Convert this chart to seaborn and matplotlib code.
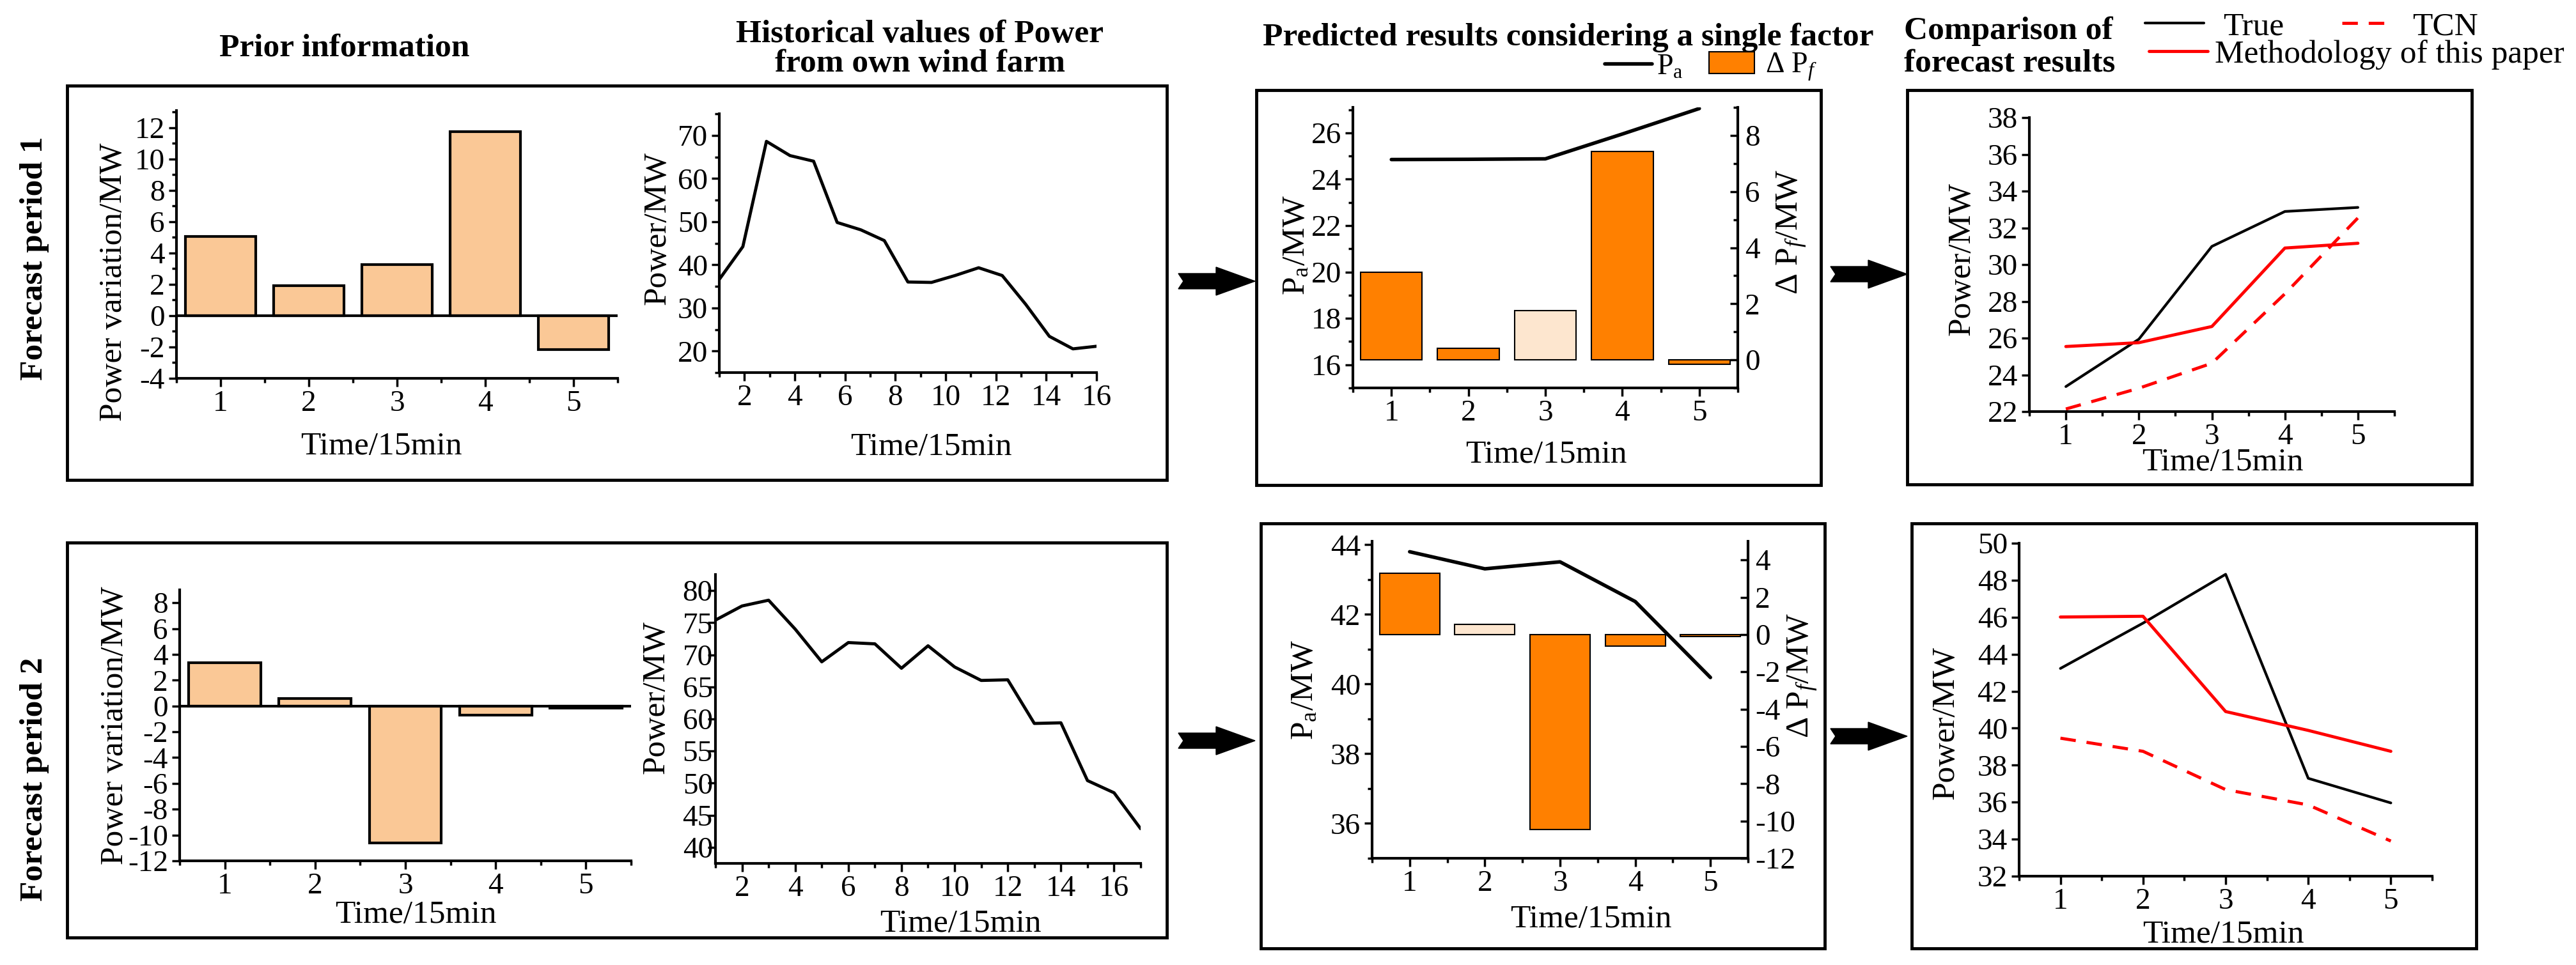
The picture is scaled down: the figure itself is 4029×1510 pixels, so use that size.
import numpy as np
import matplotlib.pyplot as plt
import seaborn as sns
from matplotlib.lines import Line2D
from matplotlib.patches import Patch, Rectangle, Polygon
from matplotlib.ticker import MultipleLocator

# ---------------- data ----------------
steps = [1, 2, 3, 4, 5]

# forecast period 1
prior_p1 = [5.05, 1.9, 3.25, 11.75, -2.15]
hist_p1 = [36.6, 44.2, 68.6, 65.3, 64.0, 49.8, 48.1, 45.6, 36.0, 35.9,
           37.5, 39.3, 37.5, 30.8, 23.4, 20.5, 21.1]
pa_p1 = [24.85, 24.86, 24.88, 25.95, 27.05]
dpf_p1 = [3.12, 0.41, 1.75, 7.42, -0.15]
true_p1 = [23.36, 25.94, 30.99, 32.89, 33.11]
ours_p1 = [25.54, 25.75, 26.63, 30.90, 31.16]
tcn_p1 = [22.14, 23.27, 24.63, 28.41, 32.54]

# forecast period 2
prior_p2 = [3.33, 0.6, -10.6, -0.69, -0.15]
hist_p2 = [75.4, 77.6, 78.5, 74.0, 68.9, 71.9, 71.7, 67.9, 71.4, 68.1,
           66.0, 66.1, 59.3, 59.4, 50.4, 48.5, 42.9]
pa_p2 = [43.80, 43.31, 43.51, 42.37, 40.19]
dpf_p2 = [3.30, 0.55, -10.46, -0.63, -0.10]
true_p2 = [43.23, 45.68, 48.32, 37.29, 35.96]
ours_p2 = [46.01, 46.05, 40.90, 39.88, 38.75]
tcn_p2 = [39.46, 38.75, 36.68, 35.85, 33.90]

# time axis of the history windows
hist_t1 = np.linspace(1, 16, len(hist_p1))
hist_t2 = np.arange(1, len(hist_p2) + 1)

PEACH = '#FAC896'
ORANGE = '#FF8000'
PALE = '#FDE6CF'

# ---------------- style ----------------
sns.set_theme(style='ticks')
plt.rcParams['font.family'] = ['Liberation Serif', 'DejaVu Serif']
plt.rcParams['mathtext.fontset'] = 'custom'
plt.rcParams['mathtext.rm'] = 'Liberation Serif'
plt.rcParams['mathtext.it'] = 'Liberation Serif:italic'
plt.rcParams['axes.unicode_minus'] = False
for k in ['text.color', 'axes.labelcolor', 'xtick.color', 'ytick.color', 'axes.edgecolor']:
    plt.rcParams[k] = 'black'

W, H = 4030, 1510
fig = plt.figure(figsize=(W / 100, H / 100), dpi=100)


def px(x, y):
    return (x / W, 1 - y / H)


def rect(x0, y0, x1, y1):
    return [x0 / W, 1 - y1 / H, (x1 - x0) / W, (y1 - y0) / H]


TICK = 34
LAB = 37


def base_style(ax, ypad=4):
    ax.spines['top'].set_visible(False)
    ax.spines['right'].set_visible(False)
    for s in ['left', 'bottom']:
        ax.spines[s].set_linewidth(3)
    ax.tick_params(axis='both', which='major', direction='out', length=9, width=2.5,
                   labelsize=TICK, pad=4)
    ax.tick_params(axis='y', which='major', pad=ypad)
    ax.tick_params(axis='both', which='minor', direction='out', length=5, width=2.5)


def labels(ax, xl, yl, xpos, ypos):
    ax.set_xlabel(xl, fontsize=LAB)
    ax.set_ylabel(yl, fontsize=LAB)
    ax.xaxis.set_label_coords(*xpos)
    ax.yaxis.set_label_coords(*ypos)


def prior_panel(ax, vals, ylim, yticks, yminor, xpos, ypos, ypad=4):
    sns.barplot(x=steps, y=vals, native_scale=True, color=PEACH, saturation=1,
                edgecolor='black', linewidth=3, width=0.8, errorbar=None, ax=ax)
    ax.axhline(0, color='black', lw=3)
    ax.set_xlim(0.5, 5.5)
    ax.set_ylim(*ylim)
    ax.set_xticks(steps)
    ax.xaxis.set_minor_locator(MultipleLocator(0.5))
    ax.set_yticks(yticks)
    if yminor:
        ax.yaxis.set_minor_locator(MultipleLocator(yminor))
    base_style(ax, ypad)
    labels(ax, 'Time/15min', 'Power variation/MW', xpos, ypos)


def history_panel(ax, t, vals, xlim, ylim, yticks, yminor, xpos, ypos, ypad=4):
    sns.lineplot(x=t, y=vals, color='black', lw=3.5, ax=ax)
    ax.set_xlim(*xlim)
    ax.set_ylim(*ylim)
    ax.set_xticks(range(2, 17, 2))
    ax.xaxis.set_minor_locator(MultipleLocator(1))
    ax.set_yticks(yticks)
    if yminor:
        ax.yaxis.set_minor_locator(MultipleLocator(yminor))
    base_style(ax, ypad)
    labels(ax, 'Time/15min', 'Power/MW', xpos, ypos)


def factor_panel(ax, pa, dpf, fills, palim, pticks, dlim, dticks, dminor,
                 xpos, ypos, rpos):
    ax2 = ax.twinx()
    sns.barplot(x=steps, y=dpf, native_scale=True, color=ORANGE, saturation=1,
                edgecolor='black', linewidth=1.5, width=0.8, errorbar=None, ax=ax2)
    for patch, fc in zip(ax2.patches, fills):
        patch.set_facecolor(fc)
    sns.lineplot(x=steps, y=pa, color='black', lw=4, ax=ax)
    ax.set_zorder(ax2.get_zorder() + 1)
    ax.patch.set_visible(False)
    ax.set_xlim(0.5, 5.5)
    ax2.set_xlim(0.5, 5.5)
    ax.set_ylim(*palim)
    ax.set_yticks(pticks)
    ax.set_xticks(steps)
    ax.xaxis.set_minor_locator(MultipleLocator(0.5))
    ax.yaxis.set_minor_locator(MultipleLocator(1))
    base_style(ax)
    ax2.set_ylim(*dlim)
    ax2.set_yticks(dticks)
    if dminor:
        ax2.yaxis.set_minor_locator(MultipleLocator(dminor))
    for s in ['top', 'left', 'bottom']:
        ax2.spines[s].set_visible(False)
    ax2.spines['right'].set_linewidth(3)
    ax2.tick_params(axis='y', which='major', direction='in', length=9, width=2.5,
                    labelsize=TICK, pad=8)
    ax2.tick_params(axis='y', which='minor', direction='in', length=5, width=2.5)
    labels(ax, 'Time/15min', r'P$_{\rm a}$/MW', xpos, ypos)
    ax2.set_ylabel('Δ P$_{f}$/MW', fontsize=LAB)
    ax2.yaxis.set_label_coords(*rpos)


def compare_panel(ax, true, ours, tcn, ylim, yticks, xpos, ypos):
    sns.lineplot(x=steps, y=true, color='black', lw=3, ax=ax)
    sns.lineplot(x=steps, y=ours, color='red', lw=3.5, ax=ax)
    sns.lineplot(x=steps, y=tcn, color='red', lw=3.5, ax=ax)
    ax.lines[-1].set_dashes((5, 3.5))
    ax.set_xlim(0.5, 5.5)
    ax.set_ylim(*ylim)
    ax.set_xticks(steps)
    ax.xaxis.set_minor_locator(MultipleLocator(0.5))
    ax.set_yticks(yticks)
    base_style(ax)
    labels(ax, 'Time/15min', 'Power/MW', xpos, ypos)


# ---------------- axes ----------------
ax1t = fig.add_axes(rect(276, 173, 966, 592))
ax2t = fig.add_axes(rect(1125, 178, 1715, 583))
ax3t = fig.add_axes(rect(2116, 168, 2718, 607))
ax4t = fig.add_axes(rect(3174, 184, 3745, 644))
ax1b = fig.add_axes(rect(281, 923, 987, 1347))
ax2b = fig.add_axes(rect(1119, 899, 1784, 1351))
ax3b = fig.add_axes(rect(2146, 847, 2734, 1343))
ax4b = fig.add_axes(rect(3158, 850, 3804, 1371))

prior_panel(ax1t, prior_p1, (-4, 13.1), range(-4, 13, 2), 1,
            (0.464, -0.2), (-0.109, 0.36))
prior_panel(ax1b, prior_p2, (-12, 9), range(-12, 9, 2), None,
            (0.523, -0.146), (-0.11, 0.50))

history_panel(ax2t, hist_t1, hist_p1, (1, 16), (15, 75), range(20, 71, 10), 5,
              (0.561, -0.23), (-0.124, 0.558))
history_panel(ax2b, hist_t2, hist_p2, (1, 17), (37.5, 82.5), range(40, 81, 5), None,
              (0.576, -0.159), (-0.105, 0.575), ypad=-6)

factor_panel(ax3t, pa_p1, dpf_p1, [ORANGE, ORANGE, PALE, ORANGE, ORANGE],
             (15, 27.1), range(16, 27, 2), (-1, 9), range(0, 9, 2), 1,
             (0.503, -0.185), (-0.108, 0.508), (1.098, 0.556))
factor_panel(ax3b, pa_p2, dpf_p2, [ORANGE, PALE, ORANGE, ORANGE, ORANGE],
             (35, 44.1), range(36, 45, 2), (-12, 5), range(-12, 5, 2), None,
             (0.583, -0.147), (-0.139, 0.53), (1.102, 0.577))

compare_panel(ax4t, true_p1, ours_p1, tcn_p1, (22, 38), range(22, 39, 2),
              (0.53, -0.122), (-0.145, 0.52))
compare_panel(ax4b, true_p2, ours_p2, tcn_p2, (32, 50), range(32, 51, 2),
              (0.494, -0.132), (-0.141, 0.46))

# ---------------- frames and arrows ----------------
for x0, y0, x1, y1 in [(105, 134, 1825, 751), (105, 849, 1825, 1467),
                       (1965, 141, 2848, 759), (1972, 819, 2854, 1484),
                       (2983, 141, 3866, 758), (2990, 819, 3873, 1484)]:
    fig.add_artist(Rectangle(px(x0, y1), (x1 - x0) / W, (y1 - y0) / H,
                             transform=fig.transFigure, fill=False, lw=3.5,
                             ec='black'))


def arrow(x0, yc):
    pts = [(x0, yc - 12), (x0 + 59, yc - 12), (x0 + 59, yc - 22), (x0 + 120, yc),
           (x0 + 59, yc + 22), (x0 + 59, yc + 12), (x0, yc + 12), (x0 + 8, yc)]
    fig.add_artist(Polygon([px(*p) for p in pts], closed=True,
                           transform=fig.transFigure, fc='black', ec='black'))


arrow(1843, 440)
arrow(2863, 429)
arrow(1843, 1159)
arrow(2863, 1152)

# ---------------- titles ----------------
TB = 37
fig.text(*px(54, 404), 'Forecast period 1', rotation=90, ha='center', va='center',
         fontsize=TB, fontweight='bold')
fig.text(*px(54, 1219), 'Forecast period 2', rotation=90, ha='center', va='center',
         fontsize=TB, fontweight='bold')
fig.text(*px(539, 76), 'Prior information', ha='center', va='center',
         fontsize=TB, fontweight='bold')
fig.text(*px(1439, 77), 'Historical values of Power\nfrom own wind farm',
         ha='center', va='center', fontsize=TB, fontweight='bold', linespacing=1.0)
fig.text(*px(2453, 59), 'Predicted results considering a single factor',
         ha='center', va='center', fontsize=TB, fontweight='bold')
fig.text(*px(2978, 74), 'Comparison of\nforecast results', ha='left', va='center',
         fontsize=TB, fontweight='bold', linespacing=1.15)


# ---------------- legends ----------------
def key(handle, label, x, y, fs, hl, pad, hh=0.7):
    fig.legend(handles=[handle], labels=[label], loc='center left',
               bbox_to_anchor=px(x, y), frameon=False, fontsize=fs,
               handlelength=hl, handletextpad=pad, handleheight=hh,
               borderpad=0, borderaxespad=0)


key(Line2D([], [], color='black', lw=4), r'P$_{\rm a}$', 2510, 105, 33, 1.62, 0.14)
key(Patch(fc=ORANGE, ec='black', lw=1.5), 'Δ P$_{f}$', 2673, 105, 33, 1.55, 0.36, 0.75)
key(Line2D([], [], color='black', lw=3), 'True', 3355, 42, 37, 1.8, 0.58)
key(Line2D([], [], color='red', lw=3.5), 'Methodology of this paper', 3361, 86, 37, 1.8, 0.2)
key(Line2D([], [], color='red', lw=3.5, dashes=(5, 3.5)), 'TCN', 3663, 42, 37, 1.55, 0.6)

plt.savefig('out.png', dpi=100)
